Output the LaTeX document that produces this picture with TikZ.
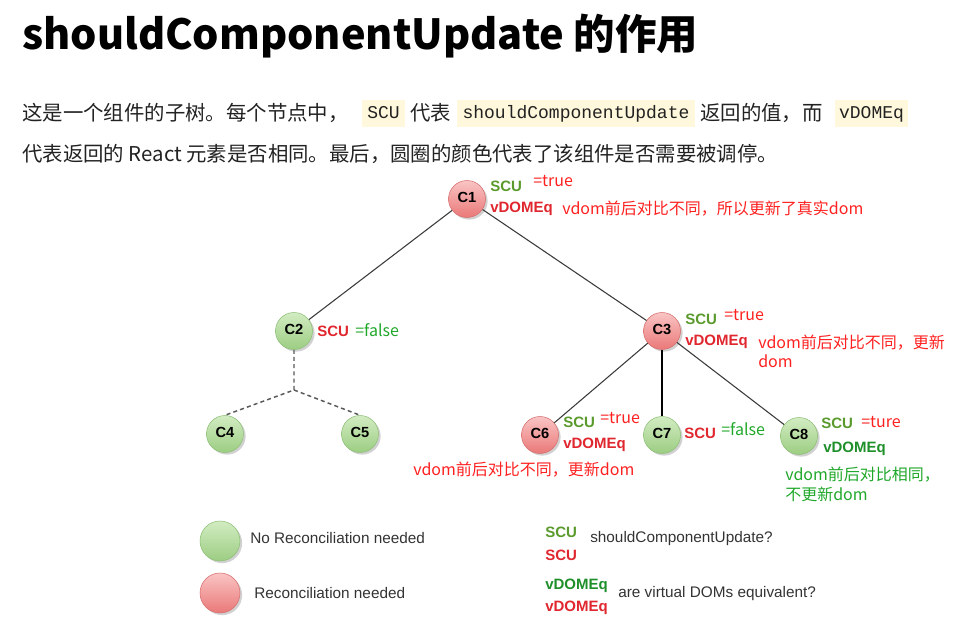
\documentclass[tikz,border=0pt]{standalone}
\usepackage{fontspec}
\setmainfont{Noto Sans CJK SC}
\newfontfamily\arialf{Liberation Sans}
\newfontfamily\monof{Liberation Mono}
\usetikzlibrary{shadows}
\definecolor{annred}{HTML}{FF2020}
\definecolor{anngreen}{HTML}{20A82A}
\definecolor{lblred}{HTML}{E0262E}
\definecolor{scugreen}{HTML}{5A9A2C}
\definecolor{darkgreen}{HTML}{1F8F2A}
\definecolor{legtxt}{HTML}{333333}
\definecolor{bodytxt}{HTML}{222222}
\definecolor{codebg}{HTML}{FFF8DC}
\definecolor{gtop}{HTML}{D2ECC2}
\definecolor{gbot}{HTML}{9CCD82}
\definecolor{gborder}{HTML}{8DBF76}
\definecolor{rtop}{HTML}{FAC4C4}
\definecolor{rbot}{HTML}{EA7878}
\definecolor{rborder}{HTML}{D66E6E}
\definecolor{edgegray}{HTML}{3A3A3A}
\tikzset{
  cnode/.style={circle, minimum size=27.75pt, inner sep=0pt, text depth=3pt,
    font=\arialf\bfseries\fontsize{11}{11}\selectfont, text=black,
    drop shadow={shadow xshift=1.6pt, shadow yshift=-1.6pt, fill=black!60, opacity=0.3}},
  gnode/.style={cnode, draw=gborder, top color=gtop, bottom color=gbot},
  rnode/.style={cnode, draw=rborder, top color=rtop, bottom color=rbot},
  lbl/.style={anchor=base west, inner sep=0pt, font=\arialf\bfseries\fontsize{11.25}{12}\selectfont},
  ann/.style={anchor=base west, inner sep=0pt, font=\fontsize{12}{14}\selectfont},
  edge/.style={draw=edgegray, line width=0.8pt},
  dedge/.style={draw=edgegray!85, line width=1.1pt, dash pattern=on 3pt off 2.4pt},
  legtext/.style={anchor=base west, inner sep=0pt, text=legtxt, font=\arialf\fontsize{11.5}{12}\selectfont},
  bodyline/.style={anchor=base west, inner sep=0pt, text=bodytxt, font=\fontsize{15.3}{17}\selectfont},
  codebox/.style={fill=codebg, inner sep=0pt, minimum height=20.25pt, text height=10pt, text depth=3pt,
    text=bodytxt, font=\monof\fontsize{13.5}{14}\selectfont}
}
\begin{document}
\begin{tikzpicture}[x=0.75pt, y=-0.75pt]
\useasboundingbox (0,0) rectangle (969,641);
% title and body
\node[anchor=base west, inner sep=0pt, text=black, font=\bfseries\fontsize{31.1}{36}\selectfont] (title) at (22,50) {shouldComponentUpdate 的作用};
\node[bodyline] (b1a) at (22,121) {这是一个组件的子树。每个节点中，};
\node[codebox, minimum width=32.25pt] (k1) at (383.5,113.5) {SCU};
\node[bodyline] (b1b) at (410,121) {代表};
\node[codebox, minimum width=178.5pt] (k2) at (576,113.5) {shouldComponentUpdate};
\node[bodyline] (b1c) at (700,121) {返回的值，而};
\node[codebox, minimum width=54.75pt] (k3) at (871.5,113.5) {vDOMEq};
\node[bodyline] (b2) at (22,162) {代表返回的 React 元素是否相同。最后，圆圈的颜色代表了该组件是否需要被调停。};
% tree nodes
\node[rnode] (c1) at (467,199) {C1};
\node[gnode] (c2) at (294,331) {C2};
\node[rnode] (c3) at (662,331) {C3};
\node[gnode] (c4) at (225,434) {C4};
\node[gnode] (c5) at (360,434) {C5};
\node[rnode] (c6) at (540,435) {C6};
\node[gnode] (c7) at (662,435) {C7};
\node[gnode] (c8) at (799,436) {C8};
% connectors
\draw[edge] (c1) -- (c2);
\draw[edge] (c1) -- (c3);
\draw[edge] (c3) -- (c6);
\draw[edge, draw=black] (c3) -- (c7);
\draw[edge] (c3) -- (c8);
\coordinate (j) at (294,390);
\draw[dedge] (c2) -- (j) -- (c4.north);
\draw[dedge] (j) -- (c5.north);
% C1 labels
\node[lbl, text=scugreen] (s1) at (490,192) {SCU};
\node[ann, text=annred] (t1) at (533,187) {=true};
\node[lbl, text=lblred] (v1) at (490,213) {vDOMEq};
\node[ann, text=annred] (a1) at (562,215) {vdom前后对比不同，所以更新了真实dom};
% C2
\node[lbl, text=lblred] (s2) at (317,336) {SCU};
\node[ann, text=anngreen] (t2) at (355,336) {=false};
% C3
\node[lbl, text=scugreen] (s3) at (685,324) {SCU};
\node[ann, text=annred] (t3) at (724,320) {=true};
\node[lbl, text=lblred] (v3) at (685,345) {vDOMEq};
\node[ann, text=annred] (a3a) at (758,348) {vdom前后对比不同，更新};
\node[ann, text=annred] (a3b) at (758,367) {dom};
% C6
\node[lbl, text=scugreen] (s6) at (563,427) {SCU};
\node[ann, text=annred] (t6) at (600,423) {=true};
\node[lbl, text=lblred] (v6) at (563,448) {vDOMEq};
\node[ann, text=annred] (a6) at (413,475) {vdom前后对比不同，更新dom};
% C7
\node[lbl, text=lblred] (s7) at (684,438) {SCU};
\node[ann, text=anngreen] (t7) at (721,435) {=false};
% C8
\node[lbl, text=scugreen] (s8) at (821,428) {SCU};
\node[ann, text=annred] (t8) at (861,427) {=ture};
\node[lbl, text=darkgreen] (v8) at (823,452) {vDOMEq};
\node[ann, text=anngreen] (a8a) at (785,480) {vdom前后对比相同，};
\node[ann, text=anngreen] (a8b) at (785,500) {不更新dom};
% legend
\node[gnode, minimum size=30pt] (lg) at (220,541) {};
\node[rnode, minimum size=30pt] (lr) at (220,593) {};
\node[legtext] (lgt) at (250,543) {No Reconciliation needed};
\node[legtext] (lrt) at (254,598) {Reconciliation needed};
\node[lbl, text=scugreen] (ls1) at (545,537) {SCU};
\node[lbl, text=lblred] (ls2) at (545,560) {SCU};
\node[legtext] (lst) at (590,542) {shouldComponentUpdate?};
\node[lbl, text=darkgreen] (lv1) at (545,589) {vDOMEq};
\node[lbl, text=lblred] (lv2) at (545,611) {vDOMEq};
\node[legtext] (lvt) at (618,597) {are virtual DOMs equivalent?};
\end{tikzpicture}
\end{document}
